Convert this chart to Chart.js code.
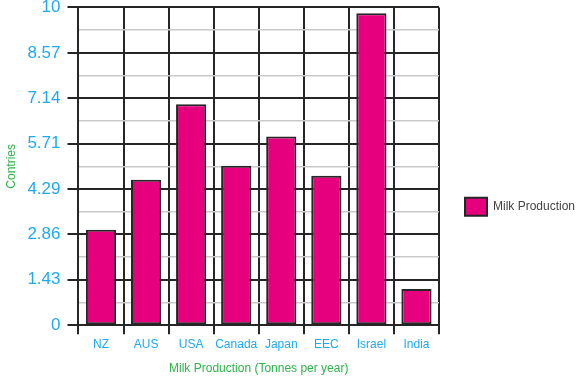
<!DOCTYPE html>
<html>
<head>
<meta charset="utf-8">
<script src="https://cdn.jsdelivr.net/npm/chart.js@4/dist/chart.umd.min.js"></script>
<style>
  html, body { margin: 0; padding: 0; background: #fff; }
  #wrap { width: 576px; height: 385px; }
</style>
</head>
<body>
<div id="wrap"><canvas id="chart"></canvas></div>
<script>
// data
const countries = ["NZ", "AUS", "USA", "Canada", "Japan", "EEC", "Israel", "India"];
const milk_production = [3.0, 4.58, 6.95, 5.02, 5.94, 4.7, 9.82, 1.14];
const y_tick_labels = ["0", "1.43", "2.86", "4.29", "5.71", "7.14", "8.57", "10"];

const blue = "#1eaaf1";
const green = "#2db34a";
const pink = "#e6007e";
const dark = "#262626";
const light = "#c9c9c9";
const font_family = "Liberation Sans, Arial, sans-serif";

// major ticks from the labels, a lighter line halfway between each pair
const y_max = 10;
const major_step = y_max / (y_tick_labels.length - 1);

new Chart(document.getElementById("chart"), {
  type: "bar",
  data: {
    labels: countries,
    datasets: [
      {
        label: "Milk Production",
        data: milk_production,
        backgroundColor: pink,
        borderColor: dark,
        borderWidth: 2,
        borderSkipped: false,
        barPercentage: 0.67,
        categoryPercentage: 1,
      },
    ],
  },
  options: {
    responsive: true,
    maintainAspectRatio: false,
    animation: false,
    layout: { padding: { top: 0, left: 4, bottom: 9.5, right: 0 } },
    plugins: {
      tooltip: { enabled: false },
      legend: {
        position: "right",
        maxWidth: 137,
        title: {
          display: true,
          text: " ",
          padding: { top: 0, bottom: 25 },
          font: { size: 11 },
        },
        labels: {
          boxWidth: 22,
          boxHeight: 18,
          padding: 26,
          color: "#444",
          font: { family: font_family, size: 12 },
        },
      },
    },
    scales: {
      x: {
        grid: {
          offset: true,
          color: dark,
          lineWidth: 2,
          tickLength: 9,
        },
        border: { color: dark, width: 2 },
        ticks: {
          color: blue,
          padding: 3,
          autoSkip: false,
          maxRotation: 0,
          minRotation: 0,
          font: { family: font_family, size: 12 },
        },
        title: {
          display: true,
          text: "Milk Production (Tonnes per year)",
          color: green,
          padding: { top: 6.5, bottom: 0 },
          font: { family: font_family, size: 12 },
        },
      },
      y: {
        min: 0,
        max: y_max,
        afterBuildTicks: (scale) => {
          const ticks = [];
          for (let i = 0; i <= (y_tick_labels.length - 1) * 2; i++) {
            ticks.push({ value: (i * major_step) / 2 });
          }
          scale.ticks = ticks;
        },
        grid: {
          color: (ctx) => (ctx.index % 2 === 0 ? dark : light),
          lineWidth: (ctx) => (ctx.index % 2 === 0 ? 2 : 1.5),
          tickColor: (ctx) => (ctx.index % 2 === 0 ? dark : "rgba(0,0,0,0)"),
          tickLength: 11,
        },
        border: { color: dark, width: 2 },
        ticks: {
          color: blue,
          padding: 7,
          autoSkip: false,
          // tiny line height so the top label doesn't push the plot down
          font: { family: font_family, size: 17, lineHeight: 0.05 },
          callback: (value, index) => (index % 2 === 0 ? y_tick_labels[index / 2] : ""),
        },
        title: {
          display: true,
          text: "Contries",
          color: green,
          padding: { top: 0, bottom: 2 },
          font: { family: font_family, size: 12 },
        },
      },
    },
  },
});
</script>
</body>
</html>
